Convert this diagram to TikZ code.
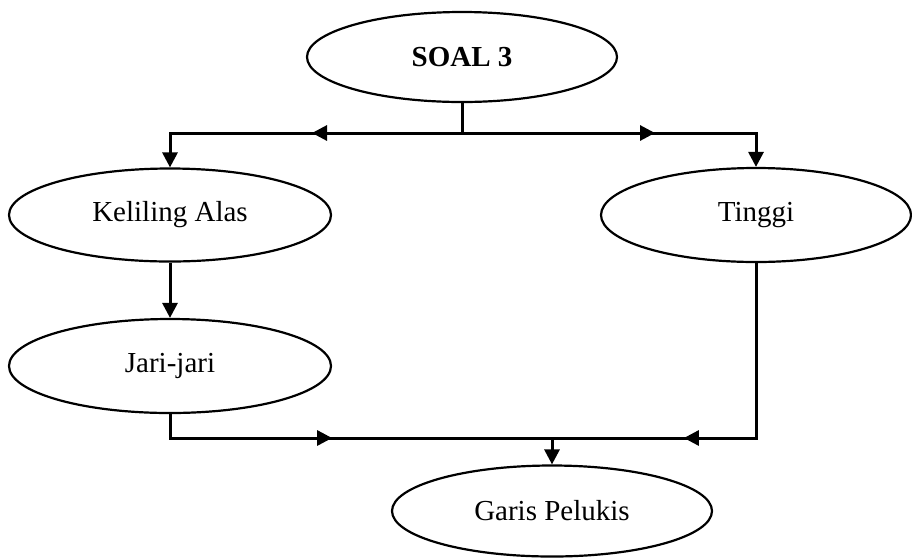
\documentclass[tikz,border=0pt]{standalone}
\usepackage{fontspec}
\setmainfont{Liberation Serif}
\usetikzlibrary{shapes.geometric,arrows.meta,decorations.markings}
\begin{document}
\begin{tikzpicture}[x=1pt,y=-1pt,
	oval/.style={draw,ellipse,line width=2.2pt,inner sep=0pt,font=\fontsize{29}{35}\selectfont},
	line/.style={line width=3pt},
	tip/.style={-{Triangle[length=15pt,width=15pt]}},
	midtip/.style={postaction=decorate,decoration={markings,mark=at position #1 with {\arrow{Triangle[length=15pt,width=15pt]}}}}]
	\useasboundingbox (0,0) rectangle (912,558);
	\node[oval,minimum width=310pt,minimum height=90pt,font=\fontsize{29}{35}\selectfont\bfseries] (soal) at (462,57) {SOAL 3};
	\node[oval,minimum width=322pt,minimum height=93pt] (keliling) at (170,215) {Keliling Alas};
	\node[oval,minimum width=310pt,minimum height=94pt] (tinggi) at (756,215) {Tinggi};
	\node[oval,minimum width=322pt,minimum height=94pt] (jari) at (170,366) {Jari-jari};
	\node[oval,minimum width=320pt,minimum height=91pt] (garis) at (552,511) {Garis Pelukis};
	\coordinate (split) at (462,133);
	\coordinate (lc) at (170,133);
	\coordinate (rc) at (756,133);
	\coordinate (bl) at (170,438);
	\coordinate (br) at (756,438);
	\coordinate (join) at (552,438);
	\draw[line] (soal.south)--(split);
	\draw[line,tip,midtip=150pt] (split)--(lc)--(keliling.north);
	\draw[line,tip,midtip=193pt] (split)--(rc)--(tinggi.north);
	\draw[line,tip] (keliling.south)--(jari.north);
	\draw[line,midtip=186pt] (jari.south)--(bl)--(join);
	\draw[line,midtip=247pt] (tinggi.south)--(br)--(join);
	\draw[line,tip] (join)--(garis.north);
\end{tikzpicture}
\end{document}
